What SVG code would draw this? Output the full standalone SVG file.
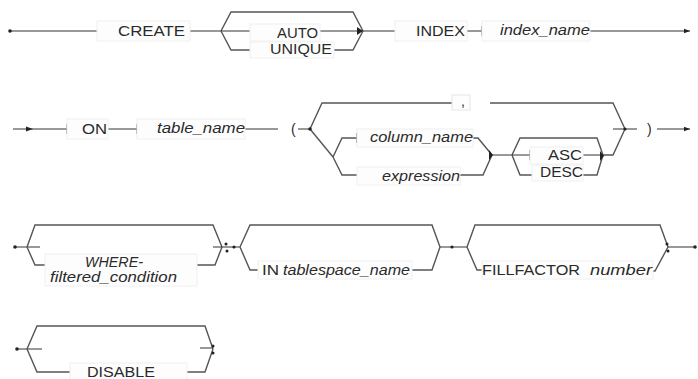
<svg xmlns="http://www.w3.org/2000/svg" width="698" height="379" viewBox="0 0 698 379">
<defs>
<style>
.ln{fill:none;stroke:#333;stroke-width:1}
.br{fill:none;stroke:#555;stroke-width:1.4}
.bx{fill:#fdfdfd;stroke:#f0f0f0;stroke-width:1}
.t{font-family:"Liberation Sans",Arial,sans-serif;font-size:14px;fill:#2a2a2a}
.i{font-style:italic}
.dot{fill:#222}
</style>
<marker id="arr" viewBox="0 0 6 6" refX="6" refY="3" markerWidth="6" markerHeight="6" orient="auto" markerUnits="userSpaceOnUse">
<path d="M0,0.8 L6,3 L0,5.2 Z" fill="#222"/>
</marker>
</defs>
<rect width="698" height="379" fill="#fff"/>

<g id="connectors">
<!-- row 1 -->
<path class="ln" d="M10,31 H97" />
<path class="ln" d="M190,31 H221" />
<path class="br" d="M221,31 L231,12 H353 L363,31" />
<path class="ln" d="M221,31 H250 M320,31 H363" />
<path class="br" d="M221,31 L231,50 H250 M334,50 H353 L363,31" />
<path class="ln" d="M363,31 H395" />
<path class="ln" d="M467,31 H482 M482,26 V36" />
<path class="ln" d="M590,31 H690" marker-end="url(#arr)" />
<!-- row 2 -->
<path class="ln" d="M13,129 H67 M67,124 V134" />
<path class="dot" d="M26,126.5 L33,129 L26,131.5 Z" />
<path class="ln" d="M108,129 H137 M137,124 V134" />
<path class="ln" d="M245,129 H278" />
<path class="ln" d="M298,129 H310" />
<path class="br" d="M310,129 L322,103 H452 M490,103 H613 L625,129" />
<path class="br" d="M310,129 L333,157" />
<path class="br" d="M333,157 L342,138 H357 M357,133 V143" />
<path class="br" d="M473,138 H478 L492,155" />
<path class="br" d="M333,157 L342,175 H357" />
<path class="br" d="M460,175 H483 L492,155" />
<path class="ln" d="M492,155 H512" />
<path class="br" d="M512,155 L520,138 H597 L603,155" />
<path class="ln" d="M512,155 H530 M530,150 V160 M583,155 H603" />
<path class="br" d="M512,155 L520,175 H532 M583,175 H597 L603,155" />
<path class="br" d="M603,155 H613 L625,129" />
<path class="ln" d="M613,129 H637" />
<path class="ln" d="M657,129 H690" marker-end="url(#arr)" />
<!-- row 3 -->
<path class="ln" d="M15,247 H40" />
<path class="br" d="M27,247 L35,225 H213 L222,247" />
<path class="br" d="M27,247 L35,265 H45 M197,265 H215 L222,247" />
<path class="ln" d="M213,247 H240" />
<path class="br" d="M240,247 L250,225 H432 L440,247" />
<path class="br" d="M240,247 L250,270 H258 M412,270 H432 L440,247" />
<path class="ln" d="M440,247 H467" />
<path class="br" d="M467,247 L475,225 H660 L668,247" />
<path class="br" d="M467,247 L477,270 H482 M653,271 H655 L668,247" />
<path class="ln" d="M668,247 H695" />
<!-- row 4 -->
<path class="ln" d="M17,349 H42" />
<path class="br" d="M27,349 L37,326 H205 L213,349" />
<path class="br" d="M27,349 L37,372 H70 M187,372 H205 L213,349" />
<path class="ln" d="M200,348 H213" />
<!-- dots -->
<circle class="dot" cx="10" cy="31" r="1.8"/>
<path class="dot" d="M357,27 L363,31 L357,35 Z"/>
<circle class="dot" cx="310" cy="129" r="1.8"/>
<path class="dot" d="M489,150 L493,155 L489,160 Z"/>
<path class="dot" d="M600,151 L604,156 L600,161 Z"/>
<circle class="dot" cx="625" cy="129" r="1.6"/>
<circle class="dot" cx="15" cy="247" r="1.8"/>
<circle class="dot" cx="226" cy="244" r="1.5"/>
<circle class="dot" cx="227" cy="251" r="1.5"/>
<circle class="dot" cx="234" cy="247" r="1.6"/>
<circle class="dot" cx="452" cy="247" r="1.6"/>
<circle class="dot" cx="667" cy="244" r="1.5"/>
<circle class="dot" cx="668" cy="251" r="1.5"/>
<circle class="dot" cx="695" cy="247" r="1.8"/>
<circle class="dot" cx="17" cy="349" r="1.8"/>
<circle class="dot" cx="213" cy="346" r="1.5"/>
<circle class="dot" cx="213" cy="353" r="1.5"/>
</g>

<g id="n-create"><rect class="bx" x="97" y="21" width="93" height="20"/><text class="t" x="118" y="36" textLength="67" lengthAdjust="spacingAndGlyphs">CREATE</text></g>
<g id="n-auto"><rect class="bx" x="250" y="24" width="70" height="17"/><text class="t" x="277" y="38" textLength="41" lengthAdjust="spacingAndGlyphs">AUTO</text></g>
<g id="n-unique"><rect class="bx" x="250" y="42" width="84" height="16"/><text class="t" x="270" y="54" textLength="62" lengthAdjust="spacingAndGlyphs">UNIQUE</text></g>
<g id="n-index"><rect class="bx" x="395" y="21" width="72" height="20"/><text class="t" x="416" y="36" textLength="49" lengthAdjust="spacingAndGlyphs">INDEX</text></g>
<g id="n-index_name"><rect class="bx" x="482" y="21" width="108" height="20"/><text class="t i" x="500" y="35" textLength="90" lengthAdjust="spacingAndGlyphs">index_name</text></g>

<g id="n-on"><rect class="bx" x="67" y="119" width="41" height="20"/><text class="t" x="82" y="134" textLength="25" lengthAdjust="spacingAndGlyphs">ON</text></g>
<g id="n-table_name"><rect class="bx" x="137" y="119" width="108" height="20"/><text class="t i" x="157" y="133" textLength="88" lengthAdjust="spacingAndGlyphs">table_name</text></g>
<g id="n-lparen"><text class="t" x="291" y="134">(</text></g>
<g id="n-comma"><rect class="bx" x="452" y="95" width="18" height="15" style="stroke:#e6e6e6"/><text class="t" x="461" y="106">,</text></g>
<g id="n-column_name"><rect class="bx" x="357" y="129" width="116" height="18"/><text class="t i" x="370" y="142" textLength="103" lengthAdjust="spacingAndGlyphs">column_name</text></g>
<g id="n-expression"><rect class="bx" x="357" y="167" width="103" height="18"/><text class="t i" x="382" y="181" textLength="78" lengthAdjust="spacingAndGlyphs">expression</text></g>
<g id="n-asc"><rect class="bx" x="530" y="147" width="53" height="17"/><text class="t" x="548" y="160" textLength="34" lengthAdjust="spacingAndGlyphs">ASC</text></g>
<g id="n-desc"><rect class="bx" x="532" y="165" width="51" height="16"/><text class="t" x="540" y="177" textLength="43" lengthAdjust="spacingAndGlyphs">DESC</text></g>
<g id="n-rparen"><text class="t" x="647" y="134">)</text></g>

<g id="n-where"><rect class="bx" x="45" y="254" width="152" height="32"/><text class="t i" x="85" y="267" textLength="58" lengthAdjust="spacingAndGlyphs">WHERE-</text><text class="t i" x="50" y="282" textLength="127" lengthAdjust="spacingAndGlyphs">filtered_condition</text></g>
<g id="n-tablespace"><rect class="bx" x="258" y="261" width="154" height="18"/><text class="t" x="262" y="275" textLength="17" lengthAdjust="spacingAndGlyphs">IN</text><text class="t i" x="283" y="275" textLength="127" lengthAdjust="spacingAndGlyphs">tablespace_name</text></g>
<g id="n-fillfactor"><rect class="bx" x="482" y="261" width="171" height="18"/><text class="t" x="482" y="275" textLength="98" lengthAdjust="spacingAndGlyphs">FILLFACTOR</text><text class="t i" x="590" y="275" textLength="62" lengthAdjust="spacingAndGlyphs">number</text></g>

<g id="n-disable"><rect class="bx" x="70" y="363" width="117" height="18"/><text class="t" x="87" y="377" textLength="68" lengthAdjust="spacingAndGlyphs">DISABLE</text></g>
</svg>
